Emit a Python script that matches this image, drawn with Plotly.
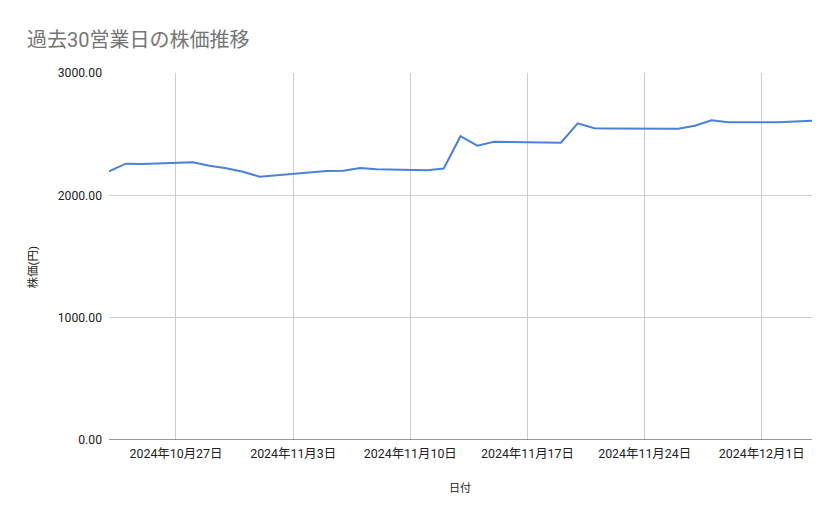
import plotly.graph_objects as go

dates = [
    "2024-10-23", "2024-10-24", "2024-10-25", "2024-10-28", "2024-10-29",
    "2024-10-30", "2024-10-31", "2024-11-01", "2024-11-05", "2024-11-06",
    "2024-11-07", "2024-11-08", "2024-11-11", "2024-11-12", "2024-11-13",
    "2024-11-14", "2024-11-15", "2024-11-18", "2024-11-19", "2024-11-20",
    "2024-11-21", "2024-11-22", "2024-11-25", "2024-11-26", "2024-11-27",
    "2024-11-28", "2024-11-29", "2024-12-02", "2024-12-03", "2024-12-04",
]
prices = [
    2196, 2259, 2256, 2270, 2242,
    2221, 2193, 2152, 2199, 2201,
    2223, 2213, 2205, 2219, 2483,
    2406, 2438, 2434, 2430, 2589,
    2548, 2546, 2542, 2544, 2569,
    2613, 2597, 2597, 2604, 2610,
]

x_tick_vals = ["2024-10-27", "2024-11-03", "2024-11-10", "2024-11-17", "2024-11-24", "2024-12-01"]
x_tick_text = ["2024年10月27日", "2024年11月3日", "2024年11月10日", "2024年11月17日", "2024年11月24日", "2024年12月1日"]
y_tick_vals = [0, 1000, 2000, 3000]

title_text = "過去30営業日の株価推移"
x_title = "日付"
y_title = "株価(円)"

FONT = "Roboto, 'Noto Sans CJK JP', sans-serif"

fig = go.Figure()
fig.add_trace(go.Scatter(
    x=dates, y=prices, mode="lines",
    line=dict(color="#4a82d8", width=2),
    hoverinfo="skip",
))

fig.update_layout(
    width=839, height=519,
    margin=dict(l=101, r=35, t=65, b=87),
    paper_bgcolor="white", plot_bgcolor="white",
    showlegend=False,
    font=dict(family=FONT, color="#222222", size=12),
    title=dict(text=title_text, x=19/839, xanchor="left", y=1-32/519, yanchor="middle",
               font=dict(family=FONT, size=20, color="#757575")),
    xaxis=dict(
        type="date", range=["2024-10-23", "2024-12-04"],
        tickvals=x_tick_vals, ticktext=x_tick_text,
        showgrid=True, gridcolor="#cccccc", gridwidth=1,
        showline=False, zeroline=False, ticks="",
        ticklabelstandoff=5,
        tickfont=dict(family=FONT, size=12.4, color="#222222"),
    ),
    yaxis=dict(
        range=[0, 3000], tickvals=y_tick_vals, tickformat=".2f",
        showgrid=True, gridcolor="#cccccc", gridwidth=1,
        zeroline=False, showline=False, ticks="",
        ticklabelstandoff=6,
        tickfont=dict(family=FONT, size=12.2, color="#222222"),
    ),
    shapes=[dict(type="line", xref="paper", yref="y", x0=0, x1=1, y0=0, y1=0,
                 line=dict(color="#333333", width=1.2))],
    annotations=[
        dict(text=x_title, xref="paper", yref="paper", x=(460-109)/703, y=-48/367, xanchor="center",
             yanchor="middle", showarrow=False, font=dict(family=FONT, size=11, color="#222222")),
        dict(text=y_title, xref="paper", yref="paper", x=-76/703, y=0.47, xanchor="center",
             yanchor="middle", textangle=-90, showarrow=False,
             font=dict(family=FONT, size=11.5, color="#222222")),
    ],
)

fig.write_html("out.html")
